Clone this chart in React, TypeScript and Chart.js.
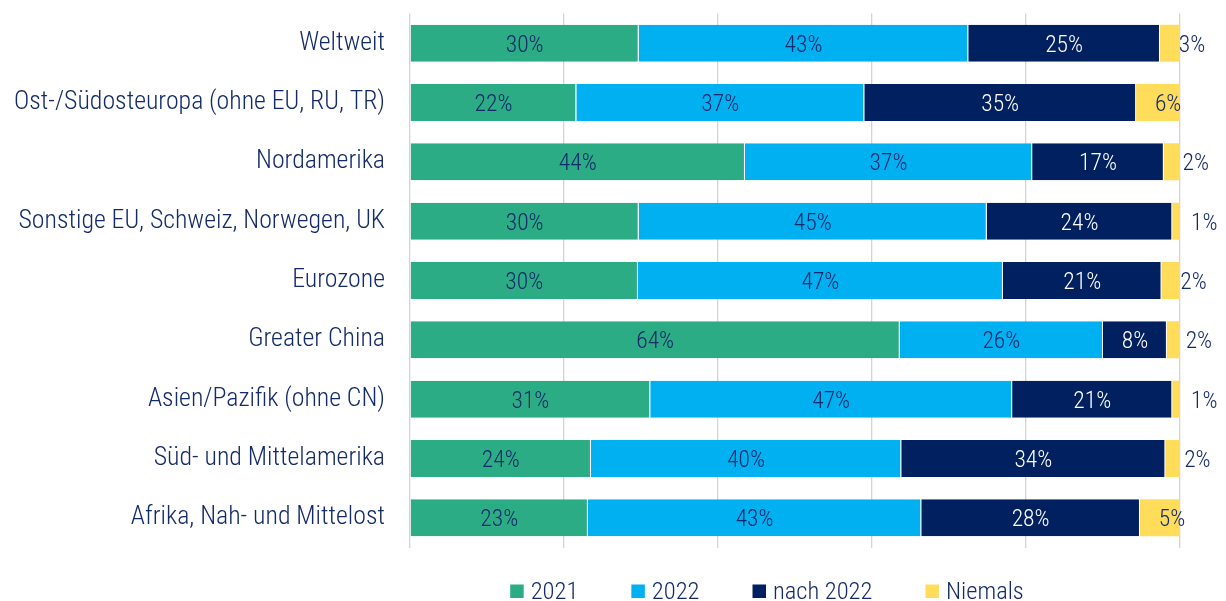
import React, { useEffect, useRef } from "react";
import { Chart, registerables } from "chart.js";

Chart.register(...registerables);

const categories = [
  "Weltweit",
  "Ost-/Südosteuropa (ohne EU, RU, TR)",
  "Nordamerika",
  "Sonstige EU, Schweiz, Norwegen, UK",
  "Eurozone",
  "Greater China",
  "Asien/Pazifik (ohne CN)",
  "Süd- und Mittelamerika",
  "Afrika, Nah- und Mittelost",
];

const seriesNames = ["2021", "2022", "nach 2022", "Niemals"];

const values2021 = [29.7, 21.6, 43.5, 29.7, 29.6, 63.6, 31.2, 23.5, 23.1];
const values2022 = [42.8, 37.4, 37.3, 45.2, 47.4, 26.4, 47.0, 40.3, 43.3];
const valuesAfter2022 = [24.9, 35.3, 17.1, 24.1, 20.6, 8.3, 20.8, 34.3, 28.4];
const valuesNever = [2.6, 5.7, 2.1, 1.0, 2.4, 1.7, 1.0, 1.9, 5.2];

const barColors = ["#2bac84", "#00b0f0", "#002060", "#ffdc5a"];
const labelColors = ["#12296a", "#12296a", "#ffffff", "#12296a"];
const textColor = "#12296a";
const FONT = '"Roboto Condensed", "Liberation Sans", sans-serif';

const valueLabelPlugin = {
  id: "valueLabels",
  afterDatasetsDraw(chart: any) {
    const ctx = chart.ctx as CanvasRenderingContext2D;
    const size = 23.5;
    ctx.save();
    ctx.font = `300 ${size}px ${FONT}`;
    ctx.textAlign = "center";
    ctx.textBaseline = "alphabetic";
    chart.data.datasets.forEach((ds: any, di: number) => {
      const meta = chart.getDatasetMeta(di);
      meta.data.forEach((bar: any, i: number) => {
        const v = ds.data[i] as number;
        const { x, y, base } = bar.getProps(["x", "y", "base"], true);
        const cx = di === 3 ? base + 32 : (x + base) / 2;
        ctx.fillStyle = labelColors[di];
        ctx.fillText(`${Math.round(v)}%`, cx, y + (size * 0.711) / 2);
      });
    });
    ctx.restore();
  },
};

const legendPlugin = {
  id: "customLegend",
  afterDraw(chart: any) {
    const ctx = chart.ctx as CanvasRenderingContext2D;
    const size = 24.5;
    const box = 13.5;
    const gapText = 7;
    const gapItem = 53;
    const centerX = 767;
    const baseline = 599;
    ctx.save();
    ctx.font = `300 ${size}px ${FONT}`;
    ctx.textBaseline = "alphabetic";
    ctx.textAlign = "left";
    const items = chart.data.datasets.map((ds: any) => ({
      text: ds.label as string,
      color: ds.backgroundColor as string,
      w: ctx.measureText(ds.label).width,
    }));
    const total =
      items.reduce((s: number, it: any) => s + box + gapText + it.w, 0) +
      gapItem * (items.length - 1);
    let x = centerX - total / 2;
    items.forEach((it: any) => {
      ctx.fillStyle = it.color;
      ctx.fillRect(x, baseline - 14.5, box, box);
      ctx.fillStyle = textColor;
      ctx.fillText(it.text, x + box + gapText, baseline);
      x += box + gapText + it.w + gapItem;
    });
    ctx.restore();
  },
};

export default function App() {
  const ref = useRef<HTMLCanvasElement>(null);
  useEffect(() => {
    document.body.style.margin = "0";
    const seriesValues = [values2021, values2022, valuesAfter2022, valuesNever];
    const chart = new Chart(ref.current!, {
      type: "bar",
      data: {
        labels: categories,
        datasets: seriesNames.map((name, i) => ({
          label: name,
          data: seriesValues[i],
          backgroundColor: barColors[i],
          borderColor: "rgba(255,255,255,0.55)",
          borderWidth: { top: 0, left: 0, bottom: 0, right: i === 3 ? 0 : 1 },
          borderSkipped: false,
          barPercentage: 0.623,
          categoryPercentage: 1,
        })),
      },
      options: {
        indexAxis: "y",
        responsive: false,
        animation: false,
        devicePixelRatio: 1,
        layout: { padding: { left: 0, right: 46, top: 13.5, bottom: 53.5 } },
        plugins: {
          legend: { display: false },
          tooltip: { enabled: false },
        },
        scales: {
          x: {
            stacked: true,
            min: 0,
            max: 100,
            ticks: { display: false, stepSize: 20 },
            grid: { color: "#d4d4d4", lineWidth: 1.3, drawTicks: false },
            border: { display: false },
            afterFit: (s: any) => {
              s.height = 0;
              s.paddingLeft = 0;
              s.paddingRight = 0;
              s.paddingTop = 0;
              s.paddingBottom = 0;
            },
          },
          y: {
            stacked: true,
            grid: { display: false, drawTicks: false },
            border: { display: false },
            ticks: {
              color: textColor,
              padding: 25,
              font: { family: FONT, size: 25.8, weight: "300" },
            },
            afterFit: (s: any) => {
              s.width = 410;
              s.paddingTop = 0;
              s.paddingBottom = 0;
              s.paddingLeft = 0;
              s.paddingRight = 0;
            },
          },
        },
      } as any,
      plugins: [valueLabelPlugin, legendPlugin],
    });
    return () => chart.destroy();
  }, []);
  return (
    <div style={{ width: 1226, height: 601 }}>
      <canvas ref={ref} width={1226} height={601} style={{ display: "block" }} />
    </div>
  );
}
